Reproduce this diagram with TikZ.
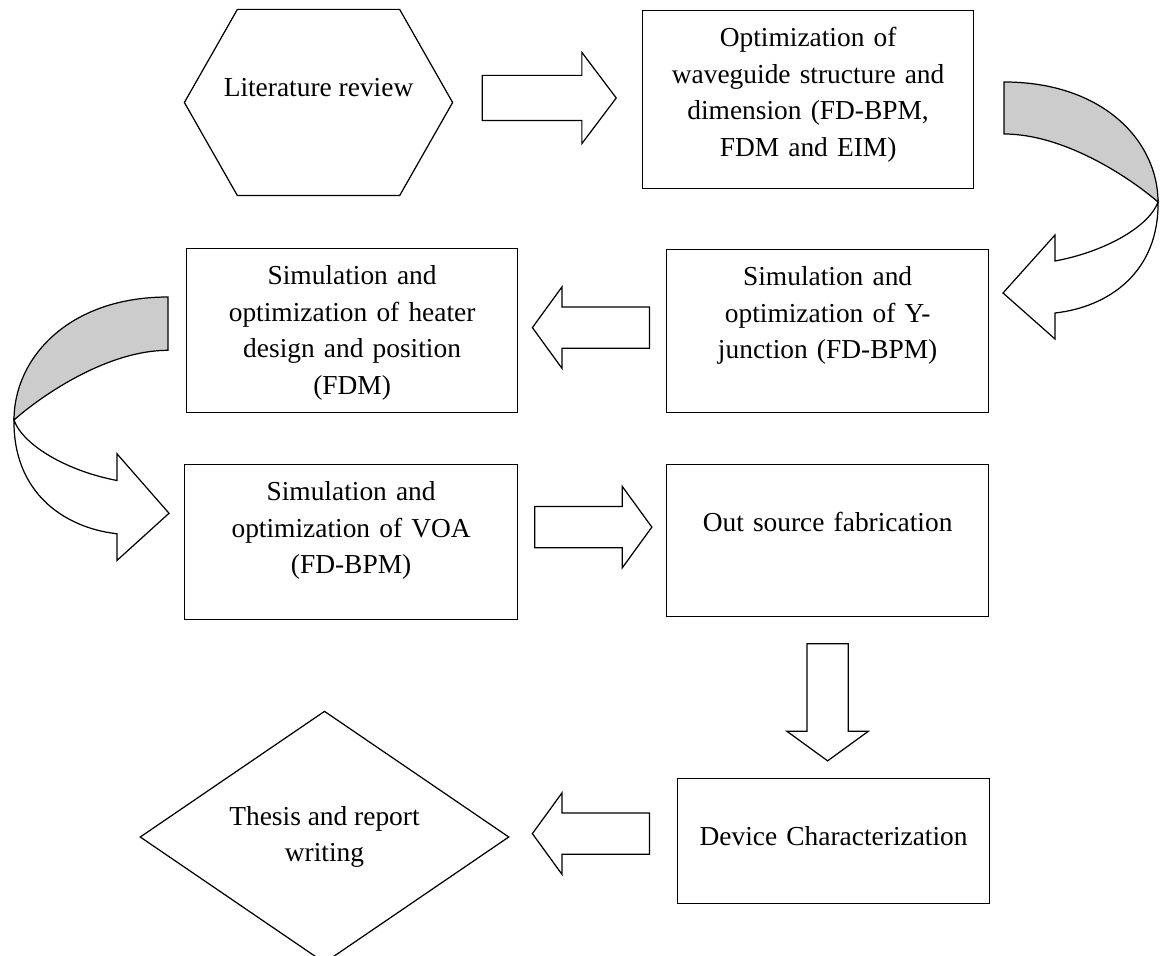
\documentclass[tikz,border=0pt]{standalone}
\usepackage{fontspec}
\setmainfont{Liberation Serif}
\usetikzlibrary{shapes.geometric,shapes.arrows}

\begin{document}
\begin{tikzpicture}[
  font=\fontsize{15.6}{20.8}\selectfont,
  line width=0.7pt,
  box/.style={draw, anchor=north west, align=center, inner sep=0pt,
              text height=0.72cm},
  blk/.style={single arrow, draw, fill=white, inner sep=0.40cm, anchor=tail,
              minimum height=2.34cm, minimum width=1.60cm,
              single arrow head extend=0.40cm, single arrow tip angle=108},
  turnarrow/.pic={
    \draw[fill=white] (3.08,-2.40) .. controls (3.10,-3.80) and (2.10,-4.50) .. (1.02,-4.62)
      -- (1.02,-5.14) -- (-0.02,-4.22) -- (1.02,-3.06) -- (1.02,-3.58)
      .. controls (2.00,-3.40) and (2.90,-2.90) .. (3.08,-2.40) -- cycle;
    \draw[fill=black!20] (0,0) .. controls (2.00,0) and (3.08,-1.20) .. (3.08,-2.40)
      .. controls (2.50,-1.90) and (1.20,-1.04) .. (0,-1.04) -- cycle;
  },
]
\useasboundingbox (0,0) rectangle (23.22,-19.12);

\node[minimum width=5.34cm, minimum height=3.70cm, inner sep=0pt,
  text height=0.40cm, text depth=0.62cm] (lit) at (6.37,-2.05) {Literature review};
\draw (lit.west) -- ([xshift=1.06cm]lit.north west) -- ([xshift=-1.06cm]lit.north east)
  -- (lit.east) -- ([xshift=-1.06cm]lit.south east) -- ([xshift=1.06cm]lit.south west) -- cycle;
\node[box, text width=6.62cm, text depth=2.84cm] (opt) at (12.84,-0.20)
  {Optimization of\\waveguide structure and\\dimension (FD-BPM,\\FDM and EIM)};
\node[box, text width=6.44cm, text depth=2.54cm] (ysim) at (13.32,-4.98)
  {Simulation and\\optimization of Y-\\junction (FD-BPM)};
\node[box, text width=6.62cm, text depth=2.56cm] (heat) at (3.72,-4.96)
  {Simulation and\\optimization of heater\\design and position\\(FDM)};
\node[box, text width=6.66cm, text depth=2.38cm] (vsim) at (3.68,-9.28)
  {Simulation and\\optimization of VOA\\(FD-BPM)};
\node[box, text width=6.44cm, text height=1.34cm, text depth=1.70cm] (fab) at (13.32,-9.28)
  {Out source fabrication};
\node[box, text width=6.24cm, text height=1.34cm, text depth=1.16cm] (dev) at (13.54,-15.56)
  {Device Characterization};
\node[diamond, draw, inner sep=0pt, minimum width=7.38cm, minimum height=4.72cm,
  align=center] (thesis) at (6.49,-16.74) {Thesis and report\\writing};

\node[blk, inner sep=0.44cm, minimum height=2.68cm, minimum width=1.80cm,
  single arrow head extend=0.46cm, single arrow tip angle=106]
  (a1) at ([xshift=0.58cm, yshift=0.09cm]lit.east) {};
\node[blk, shape border rotate=180] (a2) at ([xshift=-0.32cm, yshift=0.07cm]ysim.west) {};
\node[blk] (a3) at ([xshift=0.32cm, yshift=0.30cm]vsim.east) {};
\node[blk, shape border rotate=270] (a4) at ([yshift=-0.52cm]fab.south) {};
\node[blk, shape border rotate=180] (a5) at ([xshift=-0.54cm, yshift=0.15cm]dev.west) {};

\pic at (20.08,-1.64) {turnarrow};
\pic[xscale=-1, yscale=1.025] at (3.36,-5.94) {turnarrow};
\end{tikzpicture}
\end{document}
